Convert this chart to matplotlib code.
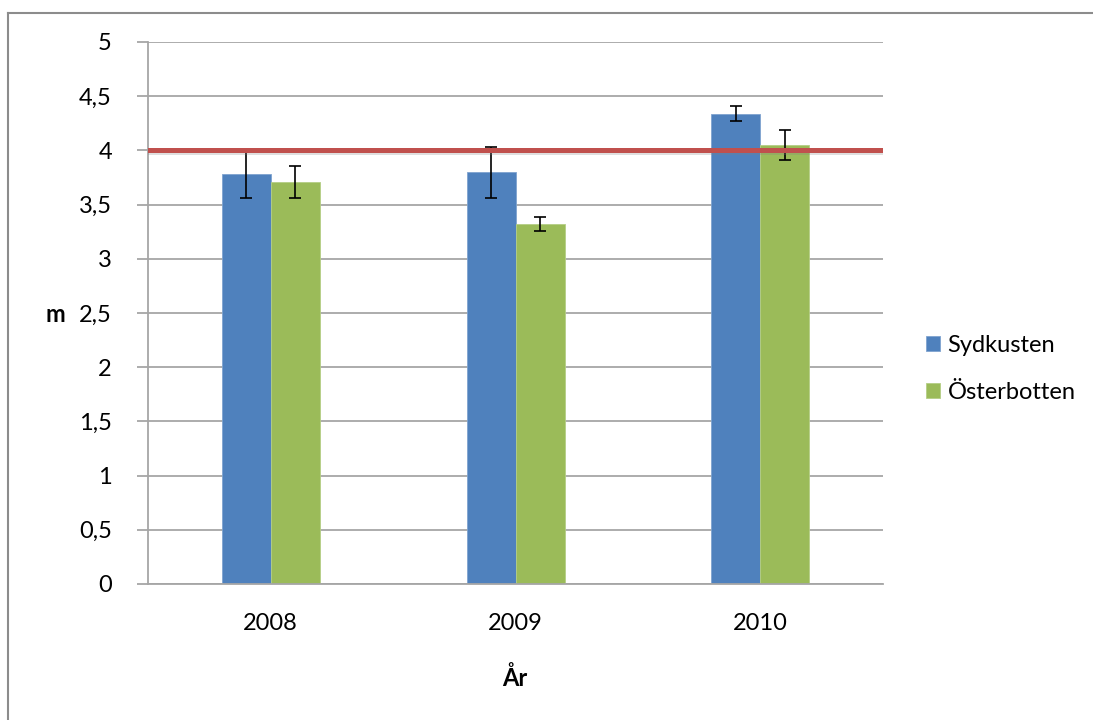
import numpy as np
import matplotlib
matplotlib.use("Agg")
from matplotlib import pyplot as plt
from matplotlib import patheffects as pe
from matplotlib.lines import Line2D

plt.rcParams["font.family"] = ["Lato", "DejaVu Sans"]

years = ["2008", "2009", "2010"]
series_names = ["Sydkusten", "Österbotten"]
sydkusten = [3.78, 3.80, 4.34]
sydkusten_err = [0.22, 0.235, 0.07]
osterbotten = [3.71, 3.32, 4.05]
osterbotten_err = [0.145, 0.065, 0.14]
target_level = 4.0
yticks = [0, 0.5, 1, 1.5, 2, 2.5, 3, 3.5, 4, 4.5, 5]
ytick_labels = ["0", "0,5", "1", "1,5", "2", "2,5", "3", "3,5", "4", "4,5", "5"]

BLUE = "#4F81BD"
GREEN = "#9BBB59"
RED = "#C0504D"
GRID = "#A6A6A6"
FS = 17

W, H = 1093, 720
fig = plt.figure(figsize=(W / 100, H / 100), dpi=100)

# outer chart-area border (only left/top visible in the reference)
bx, by = 7.5 / W, 1 - 12.5 / H
fig.lines.append(Line2D([bx, bx], [-0.05, by], transform=fig.transFigure,
                        color="#8C8C8C", lw=1.5))
fig.lines.append(Line2D([bx, 1.05], [by, by], transform=fig.transFigure,
                        color="#8C8C8C", lw=1.5))

ax = fig.add_axes([148 / W, 1 - 584 / H, (883 - 148) / W, (584 - 42) / H])

x = np.arange(len(years))
w = 0.2
err_kw = dict(ecolor="black", elinewidth=1.2, capsize=4, capthick=1.2)
ax.bar(x - w / 2, sydkusten, w, yerr=sydkusten_err, color=BLUE,
       edgecolor="#7FA3CF", linewidth=0.6, label=series_names[0],
       error_kw=err_kw, zorder=2)
ax.bar(x + w / 2, osterbotten, w, yerr=osterbotten_err, color=GREEN,
       edgecolor="#B5CE85", linewidth=0.6, label=series_names[1],
       error_kw=err_kw, zorder=2)

ax.axhline(target_level, color=RED, lw=3.6, zorder=5,
           path_effects=[pe.SimpleLineShadow(offset=(0, -1.5), shadow_color="gray", alpha=0.25),
                         pe.Normal()])

ax.set_xlim(-0.5, len(years) - 0.5)
ax.set_ylim(0, 5)
ax.set_xticks(x)
ax.set_xticklabels(years, fontsize=FS)
ax.set_yticks(yticks)
ax.set_yticklabels(ytick_labels, fontsize=FS)
ax.tick_params(axis="x", length=0, pad=21)
ax.tick_params(axis="y", length=8, width=1.3, color=GRID, pad=18)
ax.yaxis.grid(True, color=GRID, lw=1.3, zorder=0)
ax.set_axisbelow(True)
for side in ["top", "right"]:
    ax.spines[side].set_visible(False)
for side in ["left", "bottom"]:
    ax.spines[side].set_color(GRID)
    ax.spines[side].set_linewidth(1.3)

fig.text(55 / W, 1 - 315 / H, "m", fontsize=FS, fontweight="bold",
         ha="center", va="center")
fig.text(515 / W, 1 - 678 / H, "År", fontsize=FS, fontweight="bold",
         ha="center", va="center")

fig.legend(loc="center left", bbox_to_anchor=(905 / W, 1 - 369 / H),
           frameon=False, fontsize=FS, handlelength=0.6, handleheight=0.6,
           handletextpad=0.3, labelspacing=1.1)

fig.savefig("out.png", dpi=100)
